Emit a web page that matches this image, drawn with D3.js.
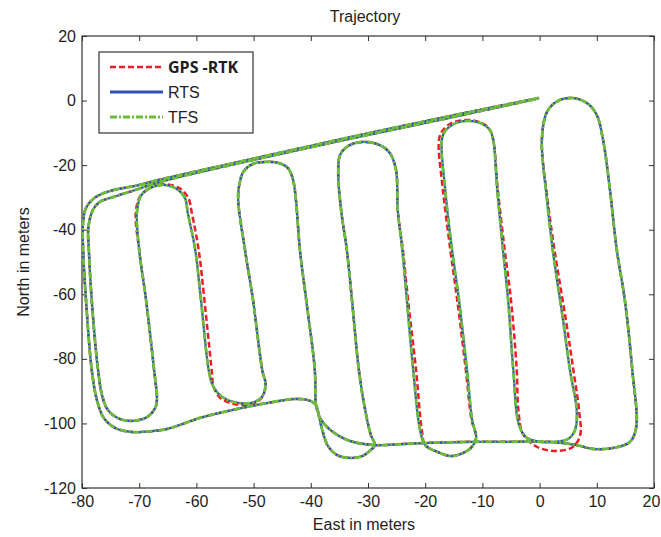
<!DOCTYPE html>
<html lang="en">
  <head>
    <meta charset="UTF-8" />
    <title>Trajectory</title>
    <style>
      body {
        margin: 0;
        background: #fff;
      }
      svg text {
        font-family: "Liberation Sans", Arial, sans-serif;
        fill: #1e1e1e;
      }
    </style>
  </head>
  <body>
    <div id="chart"></div>

    <script src="https://cdnjs.cloudflare.com/ajax/libs/d3/7.8.5/d3.min.js"></script>

    <script>
      ///////////////////////////////////////////////////////////////////////////
      ///////////////////////////////// Data ////////////////////////////////////
      ///////////////////////////////////////////////////////////////////////////

      var xTicks = [-80, -70, -60, -50, -40, -30, -20, -10, 0, 10, 20];
      var yTicks = [-120, -100, -80, -60, -40, -20, 0, 20];
      var seriesNames = ["GPS -RTK", "RTS", "TFS"];

      //RTS smoothed track, [east, north] in meters
      var rtsTrack = [
        [-0.1, 0.8], [-15.7, -4.8], [-36.6, -12.7], [-54.1, -19.6], [-66.4, -24.5], [-70.4, -26.3],
        [-75.1, -28.0], [-77.7, -30.0], [-79.3, -33.3], [-79.8, -37.6],
        [-79.8, -46.3], [-79.3, -61.8], [-78.3, -83.4], [-77.4, -92.7], [-76.2, -98.3], [-74.2, -101.4],
        [-71.6, -102.6], [-69.3, -102.6], [-65.1, -101.7], [-59.4, -98.3], [-53.6, -95.8], [-47.7, -93.7],
        [-42.4, -92.4], [-40.1, -93.0], [-39.1, -94.3],
        [-38.4, -98.3], [-36.6, -102.0], [-33.2, -105.4], [-28.8, -106.7],
        [-24.4, -106.4], [-19.2, -106.0], [-12.2, -105.7], [-5.2, -105.7], [1.8, -105.7], [6.5, -106.7],
        [9.3, -107.9], [12.8, -107.6], [15.8, -105.7], [16.9, -101.1],
        [16.2, -83.4], [14.9, -61.8], [13.5, -46.3], [12.3, -27.7], [11.1, -12.2], [10.0, -4.5],
        [8.3, -0.8], [5.8, 0.8], [3.2, -0.1], [1.3, -3.5], [0.4, -12.2],
        [1.3, -30.8], [2.3, -46.3], [4.1, -68.0], [5.3, -83.4], [6.5, -96.0], [6.2, -102.0],
        [5.0, -104.8], [2.7, -105.7], [0.1, -105.7], [-2.2, -104.5], [-3.6, -100.5],
        [-4.6, -83.4], [-5.5, -61.8], [-6.4, -46.3], [-7.4, -27.7], [-8.1, -12.2], [-8.7, -9.1],
        [-9.9, -7.3], [-12.5, -6.3], [-15.1, -7.3], [-16.5, -9.4], [-17.1, -12.2],
        [-16.5, -27.7], [-15.3, -46.3], [-14.1, -61.8], [-12.7, -83.4], [-11.8, -98.9], [-11.1, -104.5],
        [-12.2, -107.9], [-15.3, -110.1], [-17.9, -108.8], [-20.0, -106.7], [-20.9, -102.0],
        [-22.1, -83.4], [-23.2, -61.8], [-24.0, -46.3], [-24.8, -33.9], [-25.1, -21.5], [-26.2, -16.2],
        [-27.9, -13.8], [-30.9, -12.8], [-33.5, -14.1], [-34.9, -16.9], [-35.2, -23.0],
        [-34.7, -33.9], [-33.7, -46.3], [-32.8, -61.8], [-31.6, -83.4], [-30.5, -95.8], [-29.5, -103.6],
        [-28.8, -106.7],
        [-29.7, -108.5], [-31.0, -110.1], [-33.2, -110.7], [-35.4, -109.8], [-37.0, -107.0], [-38.0, -102.0],
        [-38.7, -96.8], [-39.1, -94.3],
        [-39.3, -83.4], [-40.8, -61.8], [-41.9, -46.3], [-42.6, -30.8], [-43.1, -24.6], [-44.0, -20.9],
        [-45.7, -19.3], [-47.8, -19.0], [-50.1, -19.6], [-51.8, -22.1], [-52.5, -26.1], [-52.7, -30.8],
        [-51.5, -46.3], [-50.1, -61.8], [-48.5, -83.4], [-47.9, -88.1], [-48.7, -92.1], [-50.6, -93.7],
        [-53.6, -93.3], [-55.7, -91.5], [-57.1, -88.4], [-57.8, -84.0],
        [-59.2, -61.8], [-60.2, -46.3], [-61.5, -34.8], [-62.0, -30.2], [-63.4, -27.4], [-65.8, -26.1],
        [-68.1, -27.1], [-69.7, -29.5], [-70.4, -34.8],
        [-70.0, -46.3], [-68.8, -61.8], [-67.4, -83.4], [-66.9, -92.7], [-67.2, -95.2], [-68.6, -98.0],
        [-71.1, -99.2], [-73.4, -98.6], [-75.5, -95.8], [-76.5, -91.2], [-77.2, -83.4], [-78.3, -61.8],
        [-78.8, -46.3], [-78.9, -39.5],
        [-78.1, -33.9], [-76.9, -31.4], [-74.6, -29.9], [-70.7, -27.7], [-66.4, -25.2], [-54.1, -20.0],
        [-36.6, -13.1], [-15.7, -5.3], [-0.4, 0.6]
      ];

      //GPS-RTK track, drifts off the smoothed tracks on a few legs
      var gpsTrack = [
        [-0.1, 0.8], [-15.7, -4.8], [-36.6, -12.7], [-54.1, -19.6], [-66.4, -24.5], [-70.4, -26.3],
        [-75.1, -28.0], [-77.7, -30.0], [-79.3, -33.3], [-79.8, -37.6],
        [-79.8, -46.3], [-79.3, -61.8], [-78.3, -83.4], [-77.4, -92.7], [-76.2, -98.3], [-74.2, -101.4],
        [-71.6, -102.6], [-69.3, -102.6], [-65.1, -101.7], [-59.4, -98.3], [-53.6, -95.8], [-47.7, -93.7],
        [-42.4, -92.4], [-40.1, -93.0], [-39.1, -94.3],
        [-38.4, -98.3], [-36.6, -102.0], [-33.2, -105.4], [-28.8, -106.7],
        [-24.4, -106.4], [-19.2, -106.0], [-12.2, -105.7], [-5.2, -105.7], [1.8, -105.7], [6.5, -106.7],
        [9.3, -107.9], [12.8, -107.6], [15.8, -105.7], [16.9, -101.1],
        [16.2, -83.4], [14.9, -61.8], [13.5, -46.3], [12.3, -27.7], [11.1, -12.2], [10.0, -4.5],
        [8.3, -0.8], [5.8, 0.8], [3.2, -0.1], [1.3, -3.5], [0.4, -12.2],
        [1.4, -30.8], [2.6, -46.3], [4.6, -68.0], [5.9, -83.4], [6.9, -96.0], [7.1, -103.6],
        [5.8, -107.3], [3.0, -108.5], [-0.4, -107.3], [-2.9, -103.3], [-3.7, -96.0],
        [-4.0, -83.4], [-5.0, -61.8], [-6.1, -46.3], [-7.3, -27.7], [-8.1, -12.2], [-8.7, -9.1],
        [-9.9, -7.1], [-12.5, -6.0], [-15.4, -7.0], [-17.0, -9.4], [-17.6, -12.2],
        [-16.9, -27.7], [-15.6, -46.3], [-14.4, -61.8], [-12.9, -83.4], [-11.9, -98.9], [-11.1, -104.5],
        [-12.2, -107.9], [-15.3, -110.1], [-17.9, -108.8], [-20.0, -106.7], [-20.6, -102.0],
        [-21.6, -83.4], [-23.0, -61.8], [-23.9, -46.3], [-24.8, -33.9], [-25.1, -21.5], [-26.2, -16.2],
        [-27.9, -13.8], [-30.9, -12.8], [-33.5, -14.1], [-34.9, -16.9], [-35.2, -23.0],
        [-34.7, -33.9], [-33.7, -46.3], [-32.8, -61.8], [-31.6, -83.4], [-30.5, -95.8], [-29.5, -103.6],
        [-28.8, -106.7],
        [-29.7, -108.5], [-31.0, -110.1], [-33.2, -110.7], [-35.4, -109.8], [-37.0, -107.0], [-38.0, -102.0],
        [-38.7, -96.8], [-39.1, -94.3],
        [-39.3, -83.4], [-40.8, -61.8], [-41.9, -46.3], [-42.6, -30.8], [-43.1, -24.6], [-44.0, -20.9],
        [-45.7, -19.3], [-47.8, -19.0], [-50.1, -19.6], [-51.8, -22.1], [-52.5, -26.1], [-52.7, -30.8],
        [-51.5, -46.3], [-50.1, -61.8], [-48.5, -83.4], [-47.9, -88.1], [-48.7, -92.3], [-50.6, -94.2],
        [-53.6, -93.9], [-55.9, -92.0], [-57.0, -88.6], [-57.3, -84.0],
        [-58.6, -61.8], [-59.6, -46.3], [-60.8, -34.8], [-61.4, -30.2], [-62.9, -27.2], [-65.6, -25.9],
        [-68.1, -27.1], [-69.8, -29.5], [-70.6, -34.8],
        [-70.0, -46.3], [-68.8, -61.8], [-67.4, -83.4], [-66.9, -92.7], [-67.2, -95.2], [-68.6, -98.0],
        [-71.1, -99.2], [-73.4, -98.6], [-75.5, -95.8], [-76.5, -91.2], [-77.2, -83.4], [-78.3, -61.8],
        [-78.8, -46.3], [-78.9, -39.5],
        [-78.1, -33.9], [-76.9, -31.4], [-74.6, -29.9], [-70.7, -27.7], [-66.4, -25.2], [-54.1, -20.0],
        [-36.6, -13.1], [-15.7, -5.3], [-0.4, 0.6]
      ];

      //TFS cannot be told apart from RTS anywhere in the picture
      var tfsTrack = rtsTrack;

      ///////////////////////////////////////////////////////////////////////////
      //////////////////////////// Set up the svg ///////////////////////////////
      ///////////////////////////////////////////////////////////////////////////

      var margin = { top: 36, right: 7, bottom: 49, left: 82 };
      var width = 661 - margin.left - margin.right,
        height = 537 - margin.top - margin.bottom;

      var svg = d3
        .select("#chart")
        .append("svg")
        .attr("width", 661)
        .attr("height", 537);

      var g = svg
        .append("g")
        .attr("transform", "translate(" + margin.left + "," + margin.top + ")");

      var x = d3.scaleLinear().domain([-80, 20]).range([0, width]);
      var y = d3.scaleLinear().domain([-120, 20]).range([height, 0]);

      ///////////////////////////////////////////////////////////////////////////
      ///////////////////////////////// Axes ////////////////////////////////////
      ///////////////////////////////////////////////////////////////////////////

      //plain hyphen minus, like the original
      var fmt = function(d) { return String(d); };

      //MATLAB style: ticks inside the box on all four sides
      function styleAxis(sel) {
        sel.select(".domain").remove();
        sel.selectAll(".tick line").attr("stroke", "#333");
        sel.selectAll("text").attr("font-size", 16).attr("fill", "#1e1e1e");
      }

      var xAxisG = g.append("g")
        .attr("transform", "translate(0," + height + ")")
        .call(d3.axisBottom(x).tickValues(xTicks).tickFormat(fmt).tickSizeInner(-5).tickSizeOuter(0).tickPadding(8))
        .call(styleAxis);
      //last label sits at the window edge, pull it in a little
      xAxisG.selectAll(".tick text").filter(function(d) { return d === 20; }).attr("x", -3);

      g.append("g")
        .call(d3.axisLeft(y).tickValues(yTicks).tickFormat(fmt).tickSizeInner(-5).tickSizeOuter(0).tickPadding(6))
        .call(styleAxis);
      g.append("g")
        .call(d3.axisTop(x).tickValues(xTicks).tickSizeInner(-5).tickSizeOuter(0).tickFormat(""))
        .call(styleAxis);
      g.append("g")
        .attr("transform", "translate(" + width + ",0)")
        .call(d3.axisRight(y).tickValues(yTicks).tickSizeInner(-5).tickSizeOuter(0).tickFormat(""))
        .call(styleAxis);

      g.append("rect")
        .attr("width", width)
        .attr("height", height)
        .attr("fill", "none")
        .attr("stroke", "#333")
        .attr("stroke-width", 1.2);

      //Titles
      svg.append("text")
        .attr("x", 365)
        .attr("y", 22)
        .attr("text-anchor", "middle")
        .attr("font-size", 16)
        .text("Trajectory");
      svg.append("text")
        .attr("x", 364)
        .attr("y", 530)
        .attr("text-anchor", "middle")
        .attr("font-size", 16)
        .text("East in meters");
      svg.append("text")
        .attr("transform", "translate(29," + (margin.top + height / 2) + ") rotate(-90)")
        .attr("text-anchor", "middle")
        .attr("font-size", 16)
        .text("North in meters");

      ///////////////////////////////////////////////////////////////////////////
      ///////////////////////////////// Tracks //////////////////////////////////
      ///////////////////////////////////////////////////////////////////////////

      svg.append("defs")
        .append("clipPath")
        .attr("id", "plotClip")
        .append("rect")
        .attr("width", width)
        .attr("height", height);

      var line = d3
        .line()
        .x(function(d) { return x(d[0]); })
        .y(function(d) { return y(d[1]); })
        .curve(d3.curveCatmullRom.alpha(0.5));

      var styles = [
        { color: "#ee1c24", width: 2.5, dash: "6,3" },
        { color: "#2f4fb8", width: 2.2, dash: null },
        { color: "#6cbd3c", width: 2.8, dash: "7,2,2,2" }
      ];
      var tracks = [gpsTrack, rtsTrack, tfsTrack];

      var plot = g.append("g").attr("clip-path", "url(#plotClip)");
      tracks.forEach(function(t, i) {
        plot.append("path")
          .datum(t)
          .attr("d", line)
          .attr("fill", "none")
          .attr("stroke", styles[i].color)
          .attr("stroke-width", styles[i].width)
          .attr("stroke-dasharray", styles[i].dash)
          .attr("stroke-linejoin", "round");
      });

      ///////////////////////////////////////////////////////////////////////////
      ///////////////////////////////// Legend //////////////////////////////////
      ///////////////////////////////////////////////////////////////////////////

      var legend = svg.append("g").attr("transform", "translate(99,52)");
      legend.append("rect")
        .attr("width", 154)
        .attr("height", 81)
        .attr("fill", "#fff")
        .attr("stroke", "#333")
        .attr("stroke-width", 1.2);

      seriesNames.forEach(function(name, i) {
        var yy = 15 + i * 25;
        legend.append("line")
          .attr("x1", 11)
          .attr("x2", 64)
          .attr("y1", yy)
          .attr("y2", yy)
          .attr("stroke", styles[i].color)
          .attr("stroke-width", i === 1 ? 3 : styles[i].width)
          .attr("stroke-dasharray", styles[i].dash);
        legend.append("text")
          .attr("x", 69)
          .attr("y", yy)
          .attr("dy", "0.36em")
          .attr("font-size", 16)
          .attr("font-weight", i === 0 ? "bold" : "normal")
          .style("font-family", i === 0 ? "'Open Sans', sans-serif" : null)
          .text(name);
      });
    </script>
  </body>
</html>
